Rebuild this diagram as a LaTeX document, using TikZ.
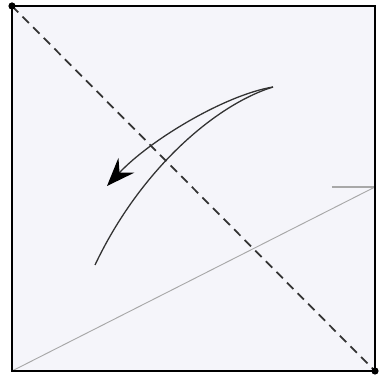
\documentclass[tikz,border=0pt]{standalone}
\usepackage{xcolor}
\usetikzlibrary{arrows.meta}

\definecolor{paper}{HTML}{F5F5FA}
\definecolor{crease}{HTML}{A8A8A8}
\definecolor{ink}{HTML}{333333}

\begin{document}
\begin{tikzpicture}[x=0.03cm, y=-0.03cm,
        >={Stealth[length=0.85cm, width=0.65cm, inset=0.3cm, color=black]},
        edge/.style={draw=black, line width=1.9pt},
        valley/.style={draw=ink, line width=1.5pt, dash pattern=on 0.27cm off 0.18cm},
        creaseline/.style={draw=crease, line width=0.8pt},
        foldarr/.style={draw=ink, line width=1.1pt},
        corner/.style={fill=black},
    ]
    \useasboundingbox (0,0) rectangle (379,376);

    % Paper
    \coordinate (tl) at (12,6);
    \coordinate (br) at (375,371);
    \coordinate (bl) at (12,371);
    \coordinate (rm) at (375,187);
    \coordinate (rs) at (332,187);
    \fill[paper] (tl) rectangle (br);

    % Creases
    \draw[creaseline] (bl) -- (rm);
    \draw[creaseline, line width=1.2pt] (rs) -- (rm);
    \draw[valley] (tl) -- (br);

    % Fold arrow
    \coordinate (arrtop) at (273,87);
    \coordinate (arrhead) at (107,186);
    \coordinate (arrtail) at (95,265);
    \draw[foldarr, ->] (arrtop) .. controls (225,95) and (150,140) .. (arrhead);
    \draw[foldarr] (arrtop) .. controls (215,105) and (140,170) .. (arrtail);

    % Outline
    \draw[edge] (tl) rectangle (br);
    \fill[corner] (tl) circle (3.6);
    \fill[corner] (br) circle (3.6);

    \end{tikzpicture}
\end{document}
